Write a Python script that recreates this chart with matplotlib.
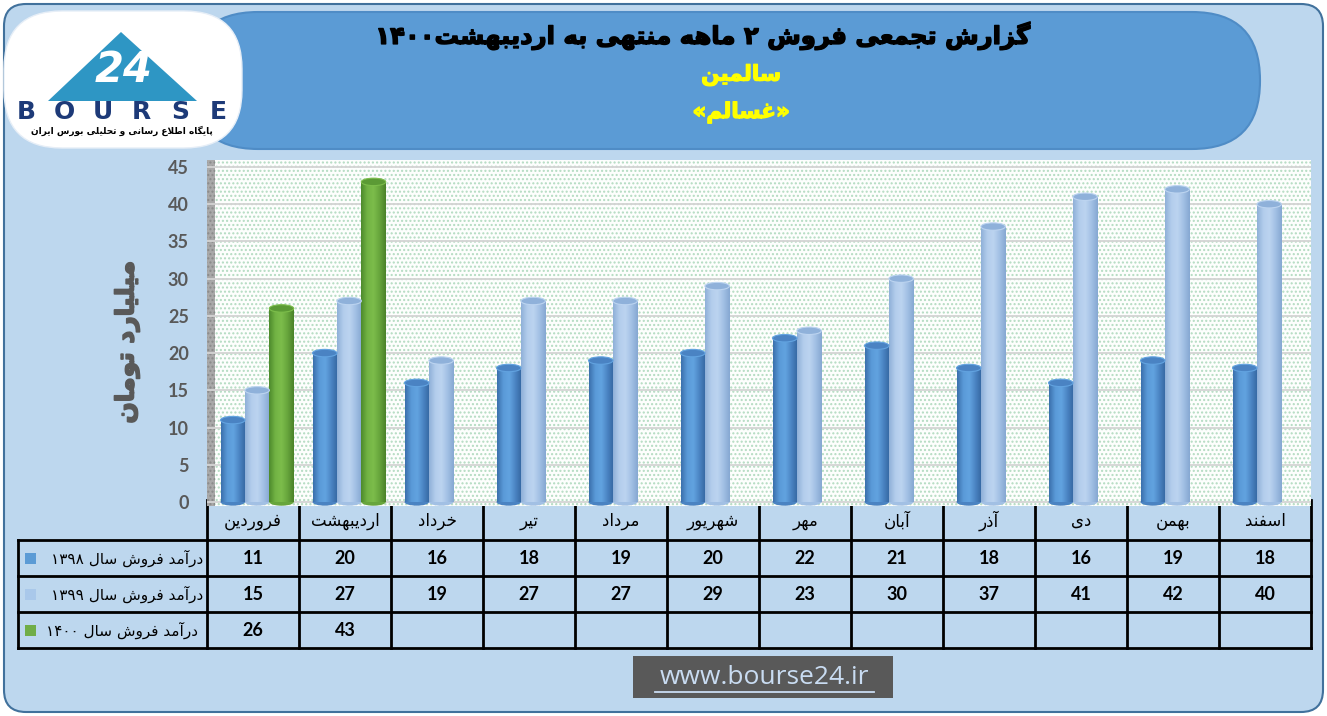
"""
Cumulative monthly sales chart (bourse24 style) with cylinder bars and data table
"""
import re
import numpy as np
import matplotlib
matplotlib.use("Agg")
import matplotlib.pyplot as plt
import matplotlib.patheffects as pe
from matplotlib.patches import Rectangle, Ellipse, FancyBboxPatch, Polygon
from matplotlib.colors import LinearSegmentedColormap

# ---- data ----
months = ['فروردین', 'اردیبهشت', 'خرداد', 'تیر', 'مرداد', 'شهریور',
          'مهر', 'آبان', 'آذر', 'دی', 'بهمن', 'اسفند']
sales_1398 = [11, 20, 16, 18, 19, 20, 22, 21, 18, 16, 19, 18]
sales_1399 = [15, 27, 19, 27, 27, 29, 23, 30, 37, 41, 42, 40]
sales_1400 = [26, 43]
series_labels = ['درآمد فروش سال ۱۳۹۸', 'درآمد فروش سال ۱۳۹۹', ' درآمد فروش سال ۱۴۰۰']
y_ticks = [0, 5, 10, 15, 20, 25, 30, 35, 40, 45]

title = 'گزارش تجمعی فروش ۲ ماهه منتهی به اردیبهشت۱۴۰۰'
company = 'سالمین'
symbol = 'غسالم'
y_label = 'میلیارد تومان'
logo_caption = 'پایگاه اطلاع رسانی و تحلیلی بورس ایران'
site = 'www.bourse24.ir'

# ---- tiny persian shaper (matplotlib has no RTL shaping) ----
FORMS = {
    'ا': ('\uFE8D', '\uFE8E', None, None),
    'آ': ('\uFE81', '\uFE82', None, None),
    'ب': ('\uFE8F', '\uFE90', '\uFE91', '\uFE92'),
    'پ': ('\uFB56', '\uFB57', '\uFB58', '\uFB59'),
    'ت': ('\uFE95', '\uFE96', '\uFE97', '\uFE98'),
    'ج': ('\uFE9D', '\uFE9E', '\uFE9F', '\uFEA0'),
    'ح': ('\uFEA1', '\uFEA2', '\uFEA3', '\uFEA4'),
    'خ': ('\uFEA5', '\uFEA6', '\uFEA7', '\uFEA8'),
    'د': ('\uFEA9', '\uFEAA', None, None),
    'ذ': ('\uFEAB', '\uFEAC', None, None),
    'ر': ('\uFEAD', '\uFEAE', None, None),
    'ز': ('\uFEAF', '\uFEB0', None, None),
    'س': ('\uFEB1', '\uFEB2', '\uFEB3', '\uFEB4'),
    'ش': ('\uFEB5', '\uFEB6', '\uFEB7', '\uFEB8'),
    'ط': ('\uFEC1', '\uFEC2', '\uFEC3', '\uFEC4'),
    'ع': ('\uFEC9', '\uFECA', '\uFECB', '\uFECC'),
    'غ': ('\uFECD', '\uFECE', '\uFECF', '\uFED0'),
    'ف': ('\uFED1', '\uFED2', '\uFED3', '\uFED4'),
    'ک': ('\uFB8E', '\uFB8F', '\uFB90', '\uFB91'),
    'گ': ('\uFB92', '\uFB93', '\uFB94', '\uFB95'),
    'ل': ('\uFEDD', '\uFEDE', '\uFEDF', '\uFEE0'),
    'م': ('\uFEE1', '\uFEE2', '\uFEE3', '\uFEE4'),
    'ن': ('\uFEE5', '\uFEE6', '\uFEE7', '\uFEE8'),
    'ه': ('\uFEE9', '\uFEEA', '\uFEEB', '\uFEEC'),
    'و': ('\uFEED', '\uFEEE', None, None),
    'ی': ('\uFBFC', '\uFBFD', '\uFBFE', '\uFBFF'),
}
LAM_ALEF = {'ا': ('\uFEFB', '\uFEFC'), 'آ': ('\uFEF5', '\uFEF6')}


def joins_next(c):
    return c in FORMS and FORMS[c][2] is not None


def fa(text):
    out = []
    i = 0
    n = len(text)
    while i < n:
        c = text[i]
        if c not in FORMS:
            out.append(c)
            i += 1
            continue
        prev = text[i - 1] if i > 0 else ''
        nxt = text[i + 1] if i + 1 < n else ''
        cp = joins_next(prev)
        if c == 'ل' and nxt in LAM_ALEF:
            out.append(LAM_ALEF[nxt][1 if cp else 0])
            i += 2
            continue
        cn = joins_next(c) and nxt in FORMS
        iso, fin, ini, med = FORMS[c]
        if cp and cn:
            out.append(med)
        elif cp:
            out.append(fin)
        elif cn:
            out.append(ini)
        else:
            out.append(iso)
        i += 1
    toks = re.findall(r'[0-9\u06F0-\u06F9]+|.', ''.join(out), re.S)
    return ''.join(reversed(toks))


def heavy(color, w):
    # thicken a bold font a bit
    return [pe.withStroke(linewidth=w, foreground=color)]


FA = 'DejaVu Sans'
NUM = 'Lato'

W, H = 1327, 716
fig = plt.figure(figsize=(W / 100, H / 100), dpi=100)
fig.patch.set_facecolor('white')

# background / decoration axes in pixel coordinates
bg = fig.add_axes([0, 0, 1, 1])
bg.set_xlim(0, W)
bg.set_ylim(H, 0)
bg.axis('off')

bg.add_patch(FancyBboxPatch((4, 4), W - 8, H - 8, boxstyle='round,pad=0,rounding_size=22',
                            facecolor='#bdd7ee', edgecolor='#41719c', lw=1.5))
# banner
bg.add_patch(FancyBboxPatch((190, 12), 1070, 137, boxstyle='round,pad=0,rounding_size=68',
                            facecolor='#5b9bd5', edgecolor='#4f8cc6', lw=1.5))
# logo
bg.add_patch(FancyBboxPatch((4, 11), 238, 137, boxstyle='round,pad=0,rounding_size=58',
                            facecolor='white', edgecolor='#e6eef7', lw=1))
bg.add_patch(Polygon([(48, 101), (121, 32), (197, 101)], closed=True,
                     facecolor='#2e96c4', edgecolor='none'))
bg.text(124, 70, '24', color='white', fontsize=30, fontweight='bold', style='italic',
        ha='center', va='center', family=FA)
for k, ch in enumerate('BOURSE'):
    bg.text(26 + k * 38.5, 112, ch, color='#1d3a78', fontsize=18, fontweight='bold',
            ha='center', va='center', family=FA)
bg.text(122, 131, fa(logo_caption), color='black', fontsize=6.5, fontweight='bold',
        ha='center', va='center', family=FA)

# header texts
bg.text(702, 36, fa(title), color='black', fontsize=17.5, fontweight='bold',
        ha='center', va='center', family=FA, path_effects=heavy('black', 1.0))
bg.text(741, 75, fa(company), color='#ffff00', fontsize=15.5, fontweight='bold',
        ha='center', va='center', family=FA, path_effects=heavy('#ffff00', 0.9))
bg.text(741, 112, '«' + fa(symbol) + '»', color='#ffff00', fontsize=15.5, fontweight='bold',
        ha='center', va='center', family=FA, path_effects=heavy('#ffff00', 0.9))

# y axis title
bg.text(127, 342, fa(y_label), color='#595959', fontsize=18, fontweight='bold',
        rotation=90, ha='center', va='center', family=FA,
        path_effects=heavy('#595959', 1.2))

# ---- chart axes ----
x0_px, x1_px, top_px, bot_px = 207, 1311, 160, 506
ax = fig.add_axes([x0_px / W, 1 - bot_px / H, (x1_px - x0_px) / W, (bot_px - top_px) / H])
ax.set_facecolor('white')
for s in ax.spines.values():
    s.set_visible(False)
ax.add_patch(Rectangle((0, 0), 1, 1, transform=ax.transAxes, facecolor='#fdfefd',
                       edgecolor='#b3dbc1', hatch='....', lw=0, zorder=0.1))
ax.add_patch(Rectangle((0, 0), 8 / (x1_px - x0_px), 1, transform=ax.transAxes,
                       facecolor='#a9a9a9', edgecolor='#8a8a8a', hatch='....', lw=0, zorder=0.2))
ax.yaxis.grid(True, color='#d4d4d4', lw=1.3)
ax.set_axisbelow(True)

n = len(months)
x = np.arange(n)
bw = 0.266
offsets = [-0.22, 0.045, 0.31]
series = [sales_1398, sales_1399, sales_1400]
palettes = [
    (['#3b70ad', '#5a9ad8', '#62a3e0', '#4a83c2', '#3466a0'], '#4a83c3'),
    (['#8fb0d8', '#b3cdec', '#bcd4f0', '#a2c0e4', '#86a8d2'], '#8fb1da'),
    (['#4d8a2c', '#72b344', '#7cbd4b', '#67a53c', '#4a8229'], '#5b9a35'),
]
grad = np.linspace(0, 1, 64).reshape(1, -1)
eh = 1.0
for vals, off, (cols, topc) in zip(series, offsets, palettes):
    cmap = LinearSegmentedColormap.from_list('cyl', cols)
    xs = x[:len(vals)] + off
    bars = ax.bar(xs, vals, width=bw, facecolor='none', edgecolor='none', zorder=3)
    for b, v in zip(bars, vals):
        bx = b.get_x()
        xc = bx + bw / 2
        ax.add_patch(Ellipse((xc, 0), bw, eh, facecolor=cols[3], edgecolor='none', zorder=2.9))
        im = ax.imshow(grad, extent=[bx, bx + bw, 0, v], aspect='auto', cmap=cmap,
                       zorder=3, interpolation='bilinear')
        im.set_clip_path(b)
        ax.add_patch(Ellipse((xc, v), bw, eh, facecolor=topc, edgecolor=cols[2],
                             lw=0.8, zorder=4))

ax.set_xlim(-0.5, n - 0.5)
ax.set_ylim(-0.54, 45.94)
ax.set_xticks([])
ax.set_yticks(y_ticks)
ax.tick_params(axis='y', length=0, pad=13, labelsize=13, labelcolor='#595959')
for lab in ax.get_yticklabels():
    lab.set_family(NUM)
    lab.set_fontweight('bold')

# ---- data table under the chart ----
col_w = (x1_px - x0_px) / n
lc = 'black'
row_y = [540, 576, 612, 648]
for k in range(n + 1):
    xx = x0_px + k * col_w
    bg.plot([xx, xx], [500, 648], color=lc, lw=2)
bg.plot([18, 18], [540, 648], color=lc, lw=2)
for yy in row_y:
    bg.plot([18, x1_px], [yy, yy], color=lc, lw=2)
for i, m in enumerate(months):
    bg.text(x0_px + (i + 0.5) * col_w, 521, fa(m), fontsize=12, ha='center',
            va='center', family=FA, color='black')
marker_cols = ['#5b9bd5', '#a9c8ea', '#70ad47']
for r, (vals, lab, mc) in enumerate(zip(series, series_labels, marker_cols)):
    yc = (row_y[r] + row_y[r + 1]) / 2
    bg.add_patch(Rectangle((25, yc - 5.5), 11, 11, facecolor=mc, edgecolor='none'))
    bg.text(203, yc, fa(lab), fontsize=11, ha='right', va='center', family=FA,
            color='black')
    for i, v in enumerate(vals):
        bg.text(x0_px + (i + 0.5) * col_w, yc + 1, str(v), fontsize=13, fontweight='bold',
                ha='center', va='center', family=NUM, color='black')

# website box
bg.add_patch(Rectangle((633, 656), 260, 42, facecolor='#595959', edgecolor='none'))
bg.text(764, 677, site, fontsize=19, ha='center', va='center', family='Open Sans',
        color='#c9dcf2')
bg.plot([655, 874], [692, 692], color='#c9dcf2', lw=1.3)

fig.savefig('out.png', dpi=100)
